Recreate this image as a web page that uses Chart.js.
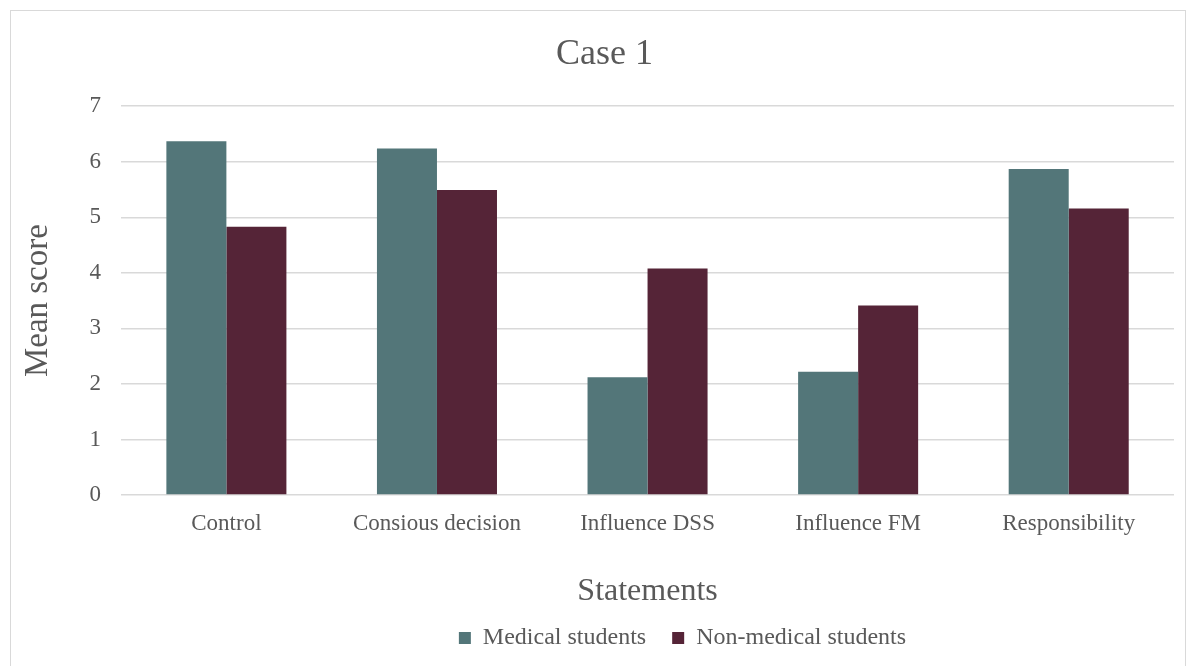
<!DOCTYPE html>
<html>
<head>
<meta charset="utf-8">
<script src="https://cdn.jsdelivr.net/npm/chart.js@4.4.1/dist/chart.umd.min.js"></script>
<style>
  html, body { margin: 0; padding: 0; background: #fff; overflow: hidden; }
  #frame {
    position: absolute; left: 10px; top: 10px;
    width: 1176px; height: 680px;
    border: 1px solid #d9d9d9; box-sizing: border-box;
  }
  #wrap { position: absolute; left: 0; top: 0; width: 1163px; height: 652px; }
</style>
</head>
<body>
<div id="frame"><div id="wrap"><canvas id="chartCanvas"></canvas></div></div>
<script>
// --- data ---
const categories = ["Control", "Consious decision", "Influence DSS", "Influence FM", "Responsibility"];
const medical = [6.37, 6.24, 2.12, 2.22, 5.87];
const nonMedical = [4.83, 5.49, 4.08, 3.41, 5.16];
const yTicks = [0, 1, 2, 3, 4, 5, 6, 7];

const textColor = "#595959";
const serif = "'Liberation Serif', 'Times New Roman', serif";

const canvas = document.getElementById("chartCanvas");

// the legend and title sit a little right of centre in the original
const nudge = {
  id: "nudge",
  afterLayout(chart) {
    const lg = chart.legend;
    lg.left += 88; lg.right += 88;
    const t = chart.titleBlock;
    t.left += 10; t.right += 10;
  }
};

new Chart(canvas, {
  type: "bar",
  data: {
    labels: categories,
    datasets: [
      { label: "Medical students", data: medical, backgroundColor: "#537679" },
      { label: "Non-medical students", data: nonMedical, backgroundColor: "#552437" }
    ]
  },
  options: {
    responsive: true,
    maintainAspectRatio: false,
    animation: false,
    datasets: { bar: { categoryPercentage: 0.57, barPercentage: 1.0 } },
    layout: { padding: { left: 4, right: 0, top: 8, bottom: 3 } },
    plugins: {
      title: {
        display: true, text: "Case 1", color: textColor,
        font: { family: serif, size: 36, weight: "normal" },
        padding: { top: 14, bottom: 30 }
      },
      legend: {
        position: "bottom",
        labels: {
          color: textColor, boxWidth: 12, boxHeight: 12, padding: 26,
          font: { family: serif, size: 24 }
        }
      },
      tooltip: { enabled: false }
    },
    scales: {
      x: {
        grid: { display: false },
        border: { display: false },
        ticks: { color: textColor, font: { family: serif, size: 23 }, padding: 7 },
        title: {
          display: true, text: "Statements", color: textColor,
          font: { family: serif, size: 32 }, padding: { top: 28, bottom: -11 }
        }
      },
      y: {
        min: 0, max: 7,
        afterBuildTicks: axis => { axis.ticks = yTicks.map(v => ({ value: v })); },
        grid: { color: "#d9d9d9", lineWidth: 1.5, drawTicks: false },
        border: { display: false },
        ticks: { color: textColor, font: { family: serif, size: 23 }, padding: 20 },
        title: {
          display: true, text: "Mean score", color: textColor,
          font: { family: serif, size: 33 }, padding: { bottom: 11 }
        }
      }
    }
  },
  plugins: [nudge]
});
</script>
</body>
</html>
